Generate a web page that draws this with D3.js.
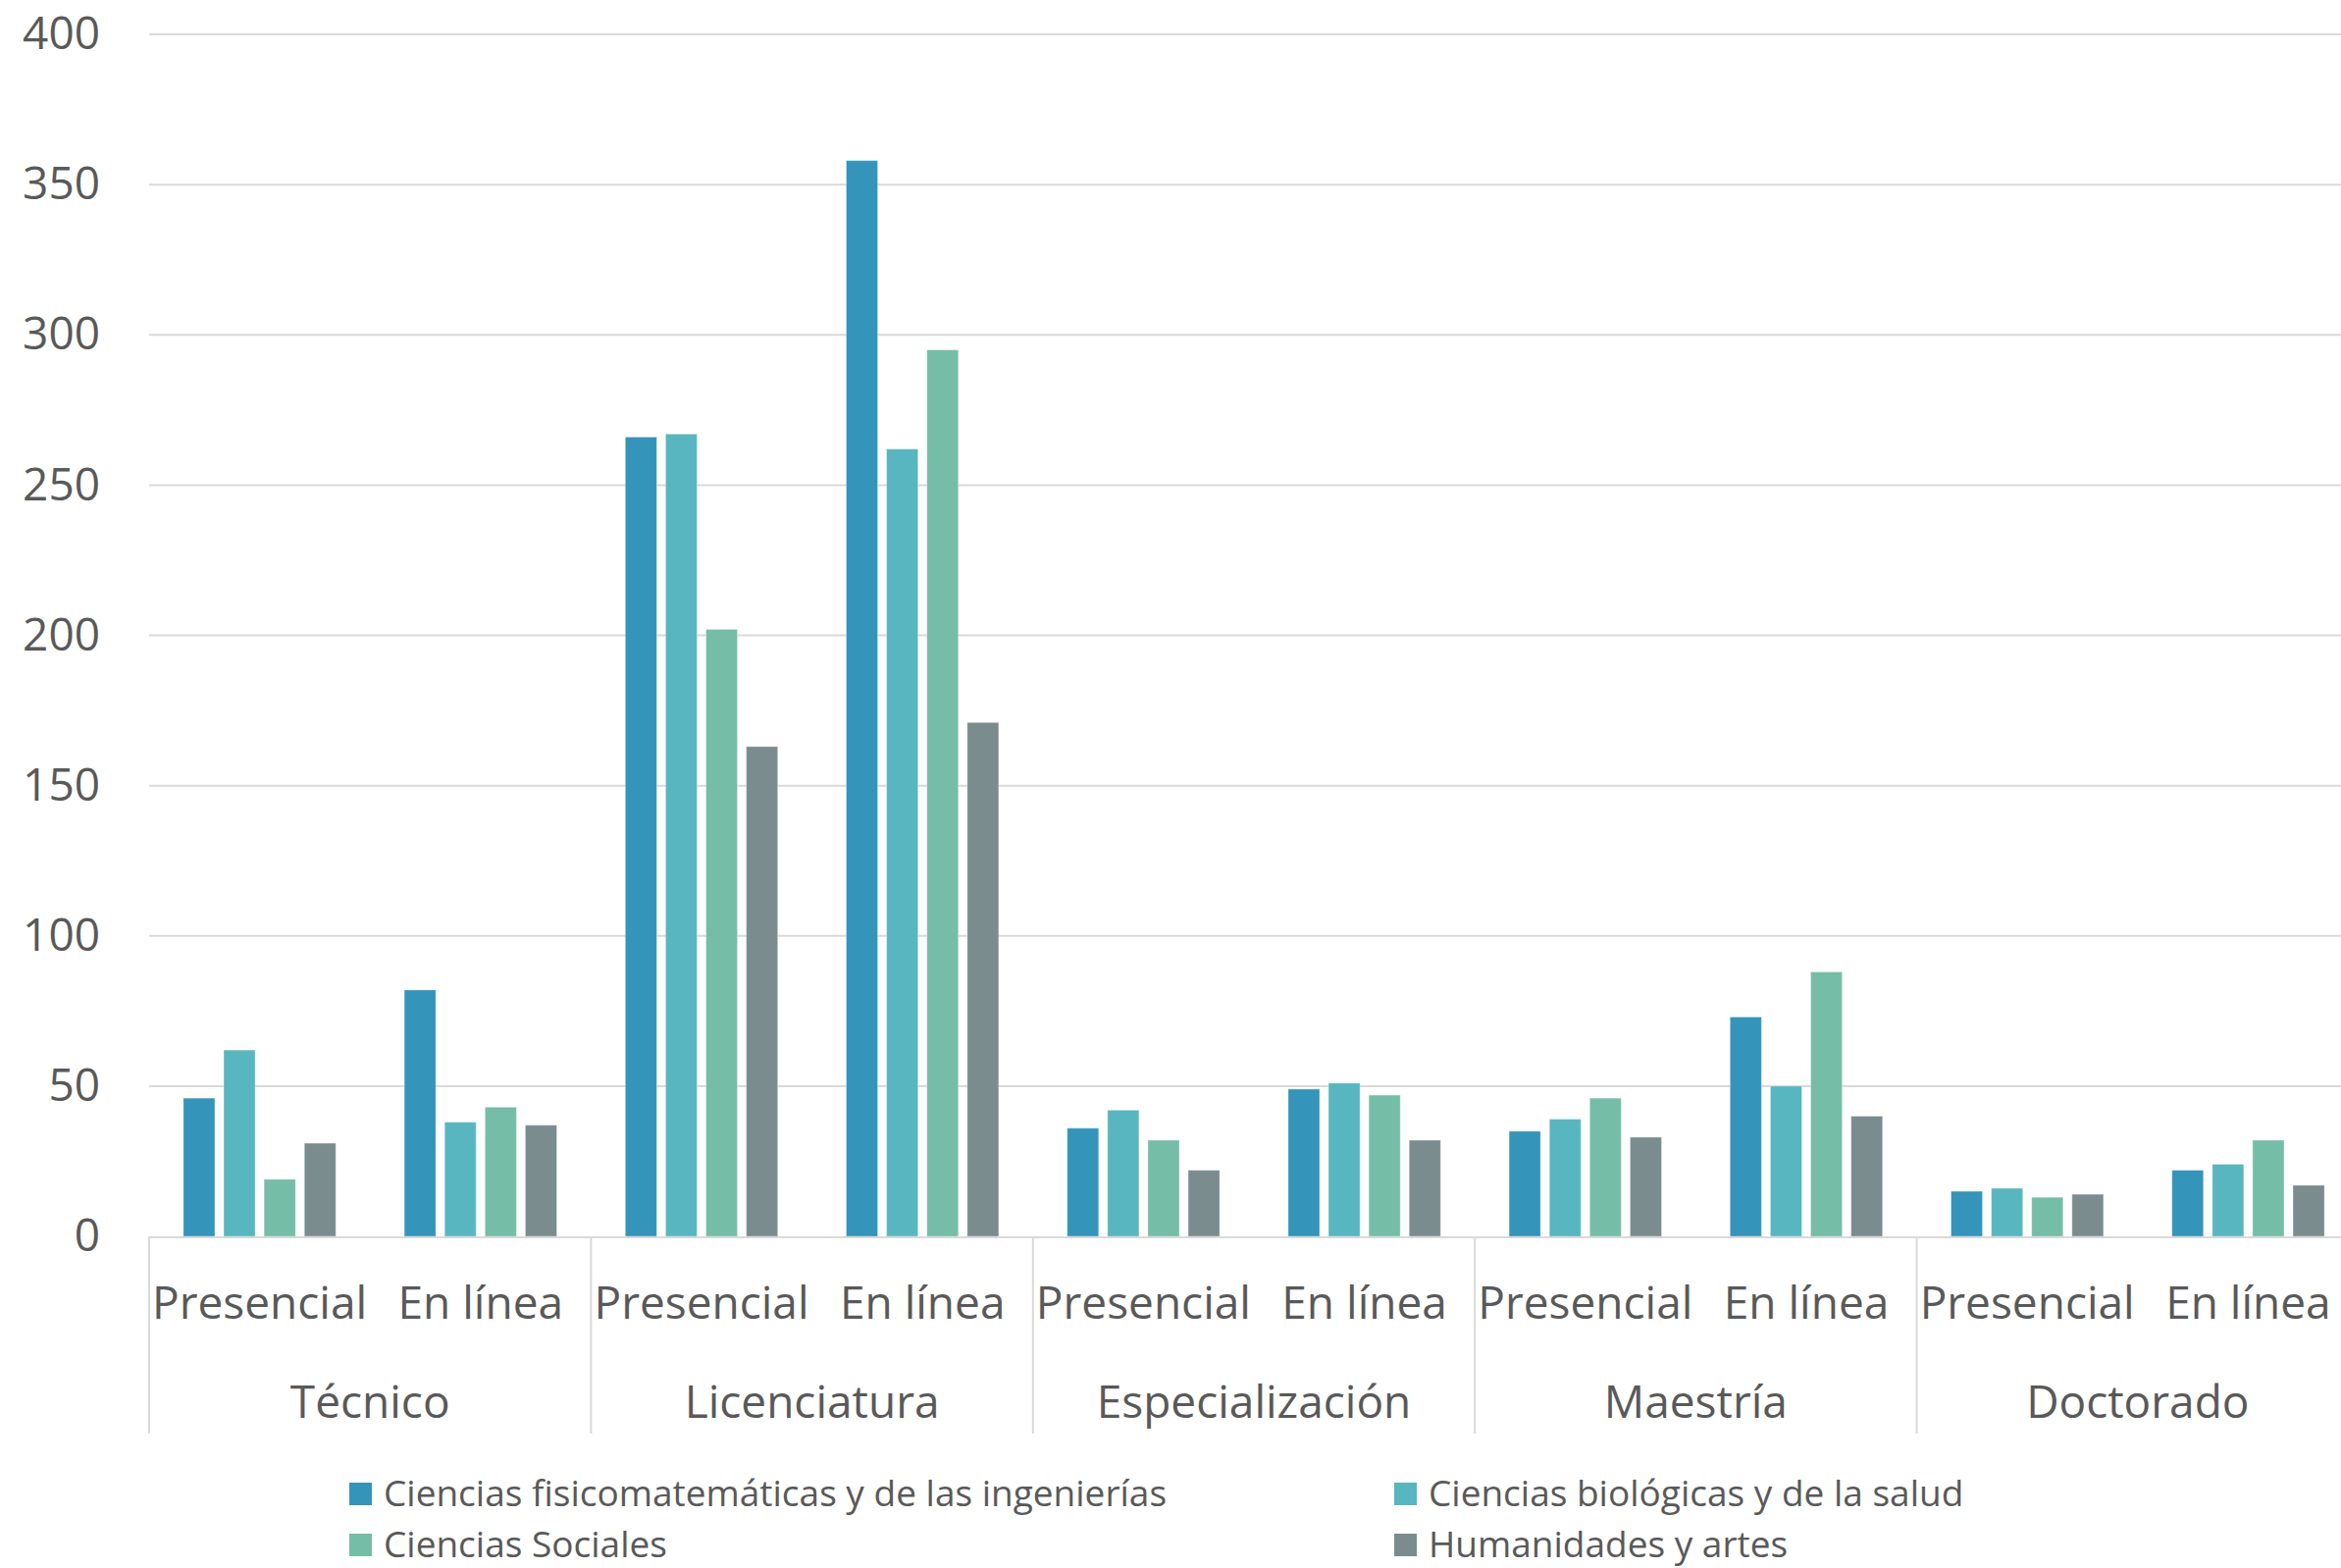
<!DOCTYPE html>
<html>
<head>
<meta charset="utf-8">
<script src="https://cdn.jsdelivr.net/npm/d3@7"></script>
<style>
html,body{margin:0;padding:0;background:#fff;overflow:hidden;}
svg{display:block;}
text{font-family:"Open Sans",sans-serif;fill:#595959;}
</style>
</head>
<body>
<svg id="chart" width="2386" height="1598"></svg>
<script>
const levels = ["Técnico","Licenciatura","Especialización","Maestría","Doctorado"];
const modes = ["Presencial","En línea"];
const seriesNames = [
  "Ciencias fisicomatemáticas y de las ingenierías",
  "Ciencias biológicas y de la salud",
  "Ciencias Sociales",
  "Humanidades y artes"
];
const seriesColors = ["#3494BA","#58B6C0","#75BDA7","#7A8C8E"];
// values per series, ordered: level × mode
const fisicomat = [46,82, 266,358, 36,49, 35,73, 15,22];
const biologicas = [62,38, 267,262, 42,51, 39,50, 16,24];
const sociales = [19,43, 202,295, 32,47, 46,88, 13,32];
const humanidades = [31,37, 163,171, 22,32, 33,40, 14,17];
const yTicks = [0,50,100,150,200,250,300,350,400];

(function(){
const seriesValues = [fisicomat, biologicas, sociales, humanidades];
const categories = [];
levels.forEach(l => modes.forEach(m => categories.push({key: l + "|" + m, level: l, mode: m})));

const svg = d3.select("#chart");
const pLeft = 152, pRight = 2404, pTop = 35, pBottom = 1260;

const x0 = d3.scaleBand().domain(categories.map(c => c.key)).range([pLeft, pRight]).padding(0);
const xg = d3.scaleBand().domain(levels).range([pLeft, pRight]).padding(0);
const bw = x0.bandwidth();
const x1 = d3.scaleBand().domain(seriesNames).range([bw*0.155, bw*0.845]).paddingInner(0.22).paddingOuter(0);
const y = d3.scaleLinear().domain([0,400]).range([pBottom, pTop]);

// gridlines
svg.append("g").selectAll("line").data(yTicks.filter(t => t > 0)).join("line")
  .attr("x1", pLeft).attr("x2", 2386)
  .attr("y1", d => y(d)).attr("y2", d => y(d))
  .attr("stroke", "#d9d9d9").attr("stroke-width", 2);

// y axis labels
const yAxis = d3.axisLeft(y).tickValues(yTicks).tickSize(0).tickPadding(50);
const ya = svg.append("g").attr("transform", `translate(${pLeft},0)`).call(yAxis);
ya.select(".domain").remove();
ya.selectAll("text").style("font-family", '"Open Sans",sans-serif').style("font-size","46px").attr("fill","#595959");

// bars
const cat = svg.append("g").selectAll("g").data(categories).join("g")
  .attr("transform", d => `translate(${x0(d.key)},0)`);
cat.selectAll("rect").data((d, i) => seriesNames.map((s, si) => ({s, si, v: seriesValues[si][i]}))).join("rect")
  .attr("x", d => x1(d.s)).attr("width", x1.bandwidth())
  .attr("y", d => y(d.v)).attr("height", d => y(0) - y(d.v))
  .attr("fill", d => seriesColors[d.si])
  .attr("stroke", "rgba(255,255,255,0.35)").attr("stroke-width", 1);

// baseline
svg.append("line").attr("x1", pLeft).attr("x2", 2386).attr("y1", pBottom+1).attr("y2", pBottom+1)
  .attr("stroke", "#d9d9d9").attr("stroke-width", 2);

// group separators
const seps = levels.map(l => xg(l)).concat([pRight]);
svg.append("g").selectAll("line").data(seps).join("line")
  .attr("x1", d => d).attr("x2", d => d).attr("y1", pBottom).attr("y2", 1461)
  .attr("stroke", "#d9d9d9").attr("stroke-width", 2);

// sub category labels
svg.append("g").selectAll("text").data(categories).join("text")
  .attr("x", d => x0(d.key) + bw/2).attr("y", 1344)
  .attr("text-anchor", "middle").style("font-size", "46px")
  .text(d => d.mode);

// group labels
svg.append("g").selectAll("text").data(levels).join("text")
  .attr("x", d => xg(d) + xg.bandwidth()/2).attr("y", 1445)
  .attr("text-anchor", "middle").style("font-size", "46px")
  .text(d => d);

// legend
const legendPos = [[356,1511],[1421,1511],[356,1563],[1421,1563]];
const lg = svg.append("g").selectAll("g").data(seriesNames).join("g")
  .attr("transform", (d, i) => `translate(${legendPos[i][0]},${legendPos[i][1]})`);
lg.append("rect").attr("width", 23).attr("height", 23).attr("fill", (d, i) => seriesColors[i]);
lg.append("text").attr("x", 35).attr("y", 24).style("font-size", "37px").text(d => d);
})();
</script>
</body>
</html>
